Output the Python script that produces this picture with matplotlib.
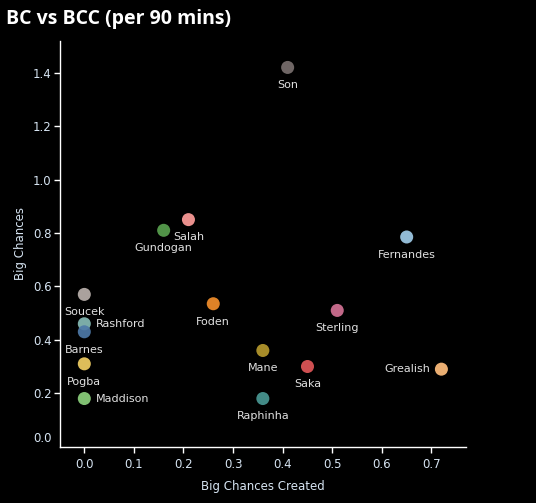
import matplotlib
matplotlib.use("Agg")
import matplotlib.pyplot as plt
from matplotlib.transforms import ScaledTranslation

players = ["Son", "Salah", "Gundogan", "Fernandes", "Soucek", "Rashford", "Barnes",
           "Foden", "Sterling", "Mane", "Saka", "Grealish", "Pogba", "Maddison", "Raphinha"]
bcc = [0.41, 0.21, 0.16, 0.65, 0.0, 0.0, 0.0, 0.26, 0.51, 0.36, 0.45, 0.72, 0.0, 0.0, 0.36]
bc = [1.42, 0.85, 0.81, 0.785, 0.57, 0.46, 0.43, 0.535, 0.51, 0.36, 0.30, 0.29, 0.31, 0.18, 0.18]
colors = ["#79706e", "#ff9d9a", "#59a14f", "#a0cbe8", "#bab0ac", "#86bcb6", "#4e79a7",
          "#f28e2b", "#d37295", "#b6992d", "#e15759", "#ffbe7d", "#f1ce63", "#8cd17d", "#499894"]
label_pos = ["below", "below", "below", "below", "below", "right", "below",
             "below", "below", "below", "below", "left", "below", "right", "below"]
xticks = [0.0, 0.1, 0.2, 0.3, 0.4, 0.5, 0.6, 0.7]
yticks = [0.0, 0.2, 0.4, 0.6, 0.8, 1.0, 1.2, 1.4]

fig = plt.figure(figsize=(5.36, 5.03), dpi=100, facecolor="black")
ax = fig.add_axes([60/536, (503-446.6)/503, (466-60)/536, (446.6-41)/503])
ax.set_facecolor("black")

for x, y, c in zip(bcc, bc, colors):
    ax.scatter([x], [y], s=88, color=c, alpha=0.92, edgecolors="none", zorder=3)

txt_color = "#e0e0e0"
for name, x, y, pos in zip(players, bcc, bc, label_pos):
    if pos == "below":
        ax.annotate(name, (x, y), xytext=(0, -12.8), textcoords="offset points",
                    ha="center", va="center", fontsize=8, color=txt_color)
    elif pos == "right":
        ax.annotate(name, (x, y), xytext=(8.5, 0), textcoords="offset points",
                    ha="left", va="center", fontsize=8, color=txt_color)
    else:
        ax.annotate(name, (x, y), xytext=(-8, 0), textcoords="offset points",
                    ha="right", va="center", fontsize=8, color=txt_color)

ax.set_xlim(-0.049, 0.7696)
ax.set_ylim(0, 1.519)
ax.set_xticks(xticks)
ax.set_xticklabels([f"{v:.1f}" for v in xticks])
ax.set_yticks(yticks)
ax.set_yticklabels([f"{v:.1f}" for v in yticks])

for s in ["top", "right"]:
    ax.spines[s].set_visible(False)
for s in ["left", "bottom"]:
    ax.spines[s].set_color("white")
    ax.spines[s].set_linewidth(1)
tick_lbl = "#d6e4f2"
ax.tick_params(colors="white", labelcolor=tick_lbl, length=4, width=1, labelsize=8.5, pad=2)
ax.tick_params(axis="x", pad=4)

lbl0 = ax.get_yticklabels()[0]
lbl0.set_transform(lbl0.get_transform() + ScaledTranslation(0, 9.5/100, fig.dpi_scale_trans))
ax.yaxis.get_major_ticks()[0].tick1line.set_visible(False)

ax.set_xlabel("Big Chances Created", color=tick_lbl, fontsize=8.5, labelpad=7)
ax.set_ylabel("Big Chances", color=tick_lbl, fontsize=8.5, labelpad=4)

fig.text(6/536, 1 - 19/503, "BC vs BCC (per 90 mins)", color="white", fontsize=14,
         fontweight="bold", family=["Open Sans", "DejaVu Sans"], ha="left", va="center")

fig.savefig("out.png", dpi=100, facecolor="black")
